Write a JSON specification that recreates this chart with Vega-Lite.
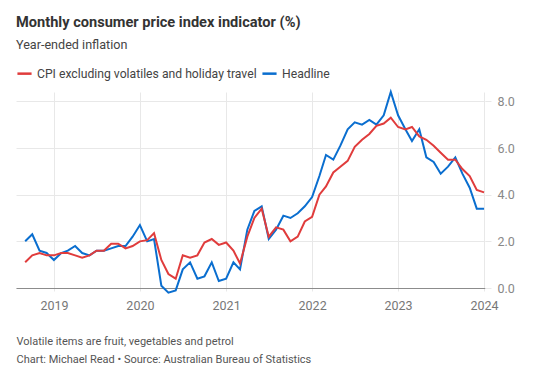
{
  "$schema": "https://vega.github.io/schema/vega-lite/v6.json",
  "width": 469,
  "height": 196,
  "autosize": {"type": "none"},
  "padding": {"left": 16, "top": 92, "right": 69, "bottom": 79},
  "background": "white",
  "config": {
    "font": "Roboto",
    "view": {"stroke": null},
    "axis": {"labelFont": "Roboto", "titleFont": "Roboto"}
  },
  "title": {
    "text": "Monthly consumer price index indicator (%)",
    "subtitle": "Year-ended inflation",
    "anchor": "start",
    "frame": "group",
    "offset": 13,
    "font": "Roboto",
    "fontSize": 14.6,
    "fontWeight": "bold",
    "color": "#333333",
    "subtitleFont": "Roboto",
    "subtitleFontSize": 12.6,
    "subtitleColor": "#444444",
    "subtitlePadding": 10
  },
  "data": {
    "values": [
      {"date": "2018-09-01", "series": "Headline", "value": 2.0},
      {"date": "2018-10-01", "series": "Headline", "value": 2.3},
      {"date": "2018-11-01", "series": "Headline", "value": 1.6},
      {"date": "2018-12-01", "series": "Headline", "value": 1.5},
      {"date": "2019-01-01", "series": "Headline", "value": 1.2},
      {"date": "2019-02-01", "series": "Headline", "value": 1.5},
      {"date": "2019-03-01", "series": "Headline", "value": 1.6},
      {"date": "2019-04-01", "series": "Headline", "value": 1.8},
      {"date": "2019-05-01", "series": "Headline", "value": 1.5},
      {"date": "2019-06-01", "series": "Headline", "value": 1.4},
      {"date": "2019-07-01", "series": "Headline", "value": 1.6},
      {"date": "2019-08-01", "series": "Headline", "value": 1.6},
      {"date": "2019-09-01", "series": "Headline", "value": 1.7},
      {"date": "2019-10-01", "series": "Headline", "value": 1.8},
      {"date": "2019-11-01", "series": "Headline", "value": 1.8},
      {"date": "2019-12-01", "series": "Headline", "value": 2.2},
      {"date": "2020-01-01", "series": "Headline", "value": 2.7},
      {"date": "2020-02-01", "series": "Headline", "value": 2.0},
      {"date": "2020-03-01", "series": "Headline", "value": 2.1},
      {"date": "2020-04-01", "series": "Headline", "value": 0.1},
      {"date": "2020-05-01", "series": "Headline", "value": -0.2},
      {"date": "2020-06-01", "series": "Headline", "value": -0.1},
      {"date": "2020-07-01", "series": "Headline", "value": 0.8},
      {"date": "2020-08-01", "series": "Headline", "value": 1.1},
      {"date": "2020-09-01", "series": "Headline", "value": 0.4},
      {"date": "2020-10-01", "series": "Headline", "value": 0.5},
      {"date": "2020-11-01", "series": "Headline", "value": 1.1},
      {"date": "2020-12-01", "series": "Headline", "value": 0.3},
      {"date": "2021-01-01", "series": "Headline", "value": 0.4},
      {"date": "2021-02-01", "series": "Headline", "value": 1.1},
      {"date": "2021-03-01", "series": "Headline", "value": 0.8},
      {"date": "2021-04-01", "series": "Headline", "value": 2.5},
      {"date": "2021-05-01", "series": "Headline", "value": 3.3},
      {"date": "2021-06-01", "series": "Headline", "value": 3.5},
      {"date": "2021-07-01", "series": "Headline", "value": 2.1},
      {"date": "2021-08-01", "series": "Headline", "value": 2.5},
      {"date": "2021-09-01", "series": "Headline", "value": 3.1},
      {"date": "2021-10-01", "series": "Headline", "value": 3.0},
      {"date": "2021-11-01", "series": "Headline", "value": 3.2},
      {"date": "2021-12-01", "series": "Headline", "value": 3.5},
      {"date": "2022-01-01", "series": "Headline", "value": 3.9},
      {"date": "2022-02-01", "series": "Headline", "value": 4.8},
      {"date": "2022-03-01", "series": "Headline", "value": 5.7},
      {"date": "2022-04-01", "series": "Headline", "value": 5.5},
      {"date": "2022-05-01", "series": "Headline", "value": 6.1},
      {"date": "2022-06-01", "series": "Headline", "value": 6.8},
      {"date": "2022-07-01", "series": "Headline", "value": 7.1},
      {"date": "2022-08-01", "series": "Headline", "value": 7.0},
      {"date": "2022-09-01", "series": "Headline", "value": 7.2},
      {"date": "2022-10-01", "series": "Headline", "value": 7.0},
      {"date": "2022-11-01", "series": "Headline", "value": 7.4},
      {"date": "2022-12-01", "series": "Headline", "value": 8.4},
      {"date": "2023-01-01", "series": "Headline", "value": 7.4},
      {"date": "2023-02-01", "series": "Headline", "value": 6.8},
      {"date": "2023-03-01", "series": "Headline", "value": 6.3},
      {"date": "2023-04-01", "series": "Headline", "value": 6.8},
      {"date": "2023-05-01", "series": "Headline", "value": 5.6},
      {"date": "2023-06-01", "series": "Headline", "value": 5.4},
      {"date": "2023-07-01", "series": "Headline", "value": 4.9},
      {"date": "2023-08-01", "series": "Headline", "value": 5.2},
      {"date": "2023-09-01", "series": "Headline", "value": 5.6},
      {"date": "2023-10-01", "series": "Headline", "value": 4.9},
      {"date": "2023-11-01", "series": "Headline", "value": 4.3},
      {"date": "2023-12-01", "series": "Headline", "value": 3.4},
      {"date": "2024-01-01", "series": "Headline", "value": 3.4},
      {"date": "2018-09-01", "series": "CPI excluding volatiles and holiday travel", "value": 1.1},
      {"date": "2018-10-01", "series": "CPI excluding volatiles and holiday travel", "value": 1.4},
      {"date": "2018-11-01", "series": "CPI excluding volatiles and holiday travel", "value": 1.5},
      {"date": "2018-12-01", "series": "CPI excluding volatiles and holiday travel", "value": 1.4},
      {"date": "2019-01-01", "series": "CPI excluding volatiles and holiday travel", "value": 1.4},
      {"date": "2019-02-01", "series": "CPI excluding volatiles and holiday travel", "value": 1.5},
      {"date": "2019-03-01", "series": "CPI excluding volatiles and holiday travel", "value": 1.5},
      {"date": "2019-04-01", "series": "CPI excluding volatiles and holiday travel", "value": 1.4},
      {"date": "2019-05-01", "series": "CPI excluding volatiles and holiday travel", "value": 1.3},
      {"date": "2019-06-01", "series": "CPI excluding volatiles and holiday travel", "value": 1.4},
      {"date": "2019-07-01", "series": "CPI excluding volatiles and holiday travel", "value": 1.6},
      {"date": "2019-08-01", "series": "CPI excluding volatiles and holiday travel", "value": 1.6},
      {"date": "2019-09-01", "series": "CPI excluding volatiles and holiday travel", "value": 1.9},
      {"date": "2019-10-01", "series": "CPI excluding volatiles and holiday travel", "value": 1.9},
      {"date": "2019-11-01", "series": "CPI excluding volatiles and holiday travel", "value": 1.7},
      {"date": "2019-12-01", "series": "CPI excluding volatiles and holiday travel", "value": 1.8},
      {"date": "2020-01-01", "series": "CPI excluding volatiles and holiday travel", "value": 2.0},
      {"date": "2020-02-01", "series": "CPI excluding volatiles and holiday travel", "value": 2.05},
      {"date": "2020-03-01", "series": "CPI excluding volatiles and holiday travel", "value": 2.35},
      {"date": "2020-04-01", "series": "CPI excluding volatiles and holiday travel", "value": 1.2},
      {"date": "2020-05-01", "series": "CPI excluding volatiles and holiday travel", "value": 0.6},
      {"date": "2020-06-01", "series": "CPI excluding volatiles and holiday travel", "value": 0.4},
      {"date": "2020-07-01", "series": "CPI excluding volatiles and holiday travel", "value": 1.4},
      {"date": "2020-08-01", "series": "CPI excluding volatiles and holiday travel", "value": 1.3},
      {"date": "2020-09-01", "series": "CPI excluding volatiles and holiday travel", "value": 1.4},
      {"date": "2020-10-01", "series": "CPI excluding volatiles and holiday travel", "value": 1.95},
      {"date": "2020-11-01", "series": "CPI excluding volatiles and holiday travel", "value": 2.1},
      {"date": "2020-12-01", "series": "CPI excluding volatiles and holiday travel", "value": 1.85},
      {"date": "2021-01-01", "series": "CPI excluding volatiles and holiday travel", "value": 1.95},
      {"date": "2021-02-01", "series": "CPI excluding volatiles and holiday travel", "value": 1.6},
      {"date": "2021-03-01", "series": "CPI excluding volatiles and holiday travel", "value": 1.05},
      {"date": "2021-04-01", "series": "CPI excluding volatiles and holiday travel", "value": 2.2},
      {"date": "2021-05-01", "series": "CPI excluding volatiles and holiday travel", "value": 3.0},
      {"date": "2021-06-01", "series": "CPI excluding volatiles and holiday travel", "value": 3.4},
      {"date": "2021-07-01", "series": "CPI excluding volatiles and holiday travel", "value": 2.2},
      {"date": "2021-08-01", "series": "CPI excluding volatiles and holiday travel", "value": 2.6},
      {"date": "2021-09-01", "series": "CPI excluding volatiles and holiday travel", "value": 2.5},
      {"date": "2021-10-01", "series": "CPI excluding volatiles and holiday travel", "value": 2.0},
      {"date": "2021-11-01", "series": "CPI excluding volatiles and holiday travel", "value": 2.2},
      {"date": "2021-12-01", "series": "CPI excluding volatiles and holiday travel", "value": 2.85},
      {"date": "2022-01-01", "series": "CPI excluding volatiles and holiday travel", "value": 3.05},
      {"date": "2022-02-01", "series": "CPI excluding volatiles and holiday travel", "value": 4.0},
      {"date": "2022-03-01", "series": "CPI excluding volatiles and holiday travel", "value": 4.35},
      {"date": "2022-04-01", "series": "CPI excluding volatiles and holiday travel", "value": 4.95},
      {"date": "2022-05-01", "series": "CPI excluding volatiles and holiday travel", "value": 5.2},
      {"date": "2022-06-01", "series": "CPI excluding volatiles and holiday travel", "value": 5.45},
      {"date": "2022-07-01", "series": "CPI excluding volatiles and holiday travel", "value": 6.05},
      {"date": "2022-08-01", "series": "CPI excluding volatiles and holiday travel", "value": 6.35},
      {"date": "2022-09-01", "series": "CPI excluding volatiles and holiday travel", "value": 6.6},
      {"date": "2022-10-01", "series": "CPI excluding volatiles and holiday travel", "value": 6.95},
      {"date": "2022-11-01", "series": "CPI excluding volatiles and holiday travel", "value": 7.05},
      {"date": "2022-12-01", "series": "CPI excluding volatiles and holiday travel", "value": 7.3},
      {"date": "2023-01-01", "series": "CPI excluding volatiles and holiday travel", "value": 6.9},
      {"date": "2023-02-01", "series": "CPI excluding volatiles and holiday travel", "value": 6.8},
      {"date": "2023-03-01", "series": "CPI excluding volatiles and holiday travel", "value": 6.9},
      {"date": "2023-04-01", "series": "CPI excluding volatiles and holiday travel", "value": 6.5},
      {"date": "2023-05-01", "series": "CPI excluding volatiles and holiday travel", "value": 6.35},
      {"date": "2023-06-01", "series": "CPI excluding volatiles and holiday travel", "value": 6.1},
      {"date": "2023-07-01", "series": "CPI excluding volatiles and holiday travel", "value": 5.8},
      {"date": "2023-08-01", "series": "CPI excluding volatiles and holiday travel", "value": 5.5},
      {"date": "2023-09-01", "series": "CPI excluding volatiles and holiday travel", "value": 5.5},
      {"date": "2023-10-01", "series": "CPI excluding volatiles and holiday travel", "value": 5.1},
      {"date": "2023-11-01", "series": "CPI excluding volatiles and holiday travel", "value": 4.8},
      {"date": "2023-12-01", "series": "CPI excluding volatiles and holiday travel", "value": 4.2},
      {"date": "2024-01-01", "series": "CPI excluding volatiles and holiday travel", "value": 4.1}
    ]
  },
  "mark": {"type": "line", "strokeWidth": 2, "clip": false},
  "encoding": {
    "x": {
      "field": "date",
      "type": "temporal",
      "scale": {"type": "utc", "domain": ["2018-07-24", "2024-01-05"]},
      "axis": {
        "values": ["2019-01-01", "2020-01-01", "2021-01-01", "2022-01-01", "2023-01-01", "2024-01-01"],
        "format": "%Y",
        "grid": true,
        "gridColor": "#e8e8e8",
        "gridWidth": 1,
        "domain": true,
        "domainColor": "#8c8c8c",
        "domainWidth": 1,
        "ticks": true,
        "tickColor": "#e8e8e8",
        "tickSize": 3,
        "labelColor": "#777777",
        "labelFontSize": 12.5,
        "labelPadding": 8,
        "labelFlush": false,
        "labelOverlap": false,
        "labelBound": false,
        "title": ["Volatile items are fruit, vegetables and petrol", "Chart: Michael Read • Source: Australian Bureau of Statistics"],
        "titleAnchor": "start",
        "titleAlign": "left",
        "titleFontWeight": "normal",
        "titleFontSize": 11,
        "titleColor": "#555555",
        "titleLineHeight": 18,
        "titlePadding": 24
      }
    },
    "y": {
      "field": "value",
      "type": "quantitative",
      "scale": {"domain": [0, 8.4], "nice": false, "zero": false},
      "axis": {
        "orient": "right",
        "values": [0, 2, 4, 6, 8],
        "format": ".1f",
        "grid": true,
        "gridColor": "#e8e8e8",
        "domain": false,
        "ticks": true,
        "tickColor": "#e8e8e8",
        "tickSize": 6,
        "labelColor": "#888888",
        "labelFontSize": 12.5,
        "labelPadding": 6,
        "title": null
      }
    },
    "color": {
      "field": "series",
      "type": "nominal",
      "sort": null,
      "scale": {
        "domain": ["CPI excluding volatiles and holiday travel", "Headline"],
        "range": ["#e03c3c", "#0a6ecf"]
      },
      "legend": {
        "orient": "none",
        "legendX": 0,
        "legendY": -27,
        "direction": "horizontal",
        "title": null,
        "symbolType": "stroke",
        "symbolSize": 200,
        "symbolStrokeWidth": 2.5,
        "labelFontSize": 12.2,
        "labelColor": "#444444",
        "labelOffset": 4,
        "labelLimit": 0,
        "columnPadding": 0
      }
    }
  }
}
